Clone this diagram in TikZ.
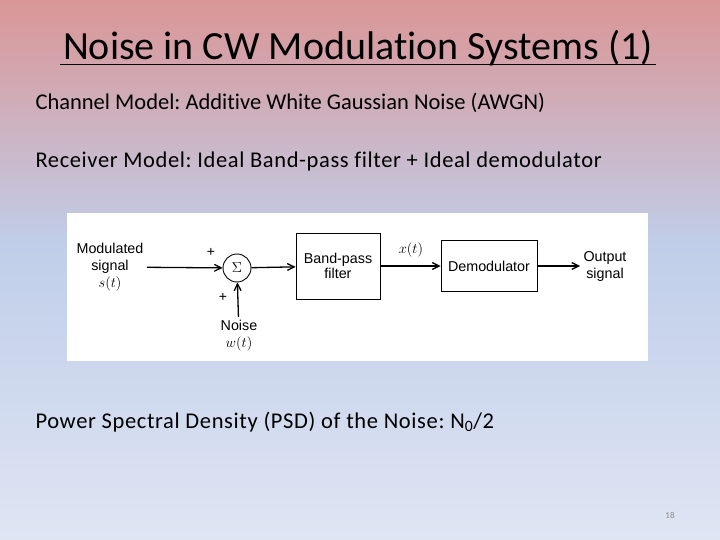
\documentclass[tikz,border=0pt]{standalone}
\usepackage{fontspec}
\setmainfont{Carlito}[Ligatures=NoCommon]
\newfontfamily\figfont{Liberation Sans}
\frenchspacing
\usetikzlibrary{arrows.meta,positioning}
\definecolor{bgtop}{RGB}{218,150,150}
\definecolor{bgmid}{RGB}{192,206,233}
\definecolor{bgbot}{RGB}{223,229,243}
\definecolor{pgnum}{RGB}{137,137,137}

\begin{document}
\begin{tikzpicture}[x=1pt,y=-1pt,>={Straight Barb[length=2.4mm,width=2.4mm]},
  body/.style={anchor=base west,font=\fontsize{22.5}{26}\selectfont},
  lbl/.style={align=center,font=\figfont\fontsize{14.3}{17}\selectfont},
  blk/.style={draw,line width=0.9pt,align=center,font=\figfont\fontsize{14.3}{15}\selectfont},
  sig/.style={->,line width=1.3pt}]
\useasboundingbox (0,0) rectangle (720,540);
\shade[top color=bgtop,bottom color=bgmid] (0,0) rectangle (720,246);
\shade[top color=bgmid,bottom color=bgbot] (0,245.5) rectangle (720,540);
\node[font=\fontsize{40}{44}\selectfont,anchor=base] (title) at (358,60) {Noise in CW Modulation Systems (1)};
\draw[line width=1.8pt] ([yshift=-4.5pt]title.base west) -- ([yshift=-4.5pt]title.base east);
\node[body] (chan) at (32,110) {Channel Model: Additive White Gaussian Noise (AWGN)};
\node[body] (recv) at (32,168) {\addfontfeatures{LetterSpace=2.7}Receiver Model: Ideal Band-pass filter + Ideal demodulator};
\node[body] (psd) at (32,428) {\addfontfeatures{LetterSpace=2.8}Power Spectral Density (PSD) of the Noise: N\textsubscript{0}/2};
\node[font=\fontsize{9}{11}\selectfont,text=pgnum] (page) at (670,515) {18};
% block diagram
\fill[white] (67,213) rectangle (648,361);
\node[lbl] (insig) at (110,267) {Modulated\\signal\\$s(t)$};
\node[draw,circle,line width=0.9pt,minimum size=28pt,inner sep=0pt,font=\Large] (sum) at (237,268) {$\Sigma$};
\node[blk,minimum width=84pt,minimum height=66pt] (bpf) at (338,266) {Band-pass\\filter};
\node[blk,minimum width=96pt,minimum height=51pt] (demod) at (489,266) {Demodulator};
\node[lbl] (out) at (605,266) {Output\\signal};
\node[lbl] (noise) at (239,336) {Noise\\$w(t)$};
\node[font=\figfont\fontsize{14}{16}\selectfont] (pa) at (211,252) {+};
\node[font=\figfont\fontsize{14}{16}\selectfont] (pb) at (223,297) {+};
\node[font=\fontsize{14}{16}\selectfont] (xt) at (411,250) {$x(t)$};
\foreach \a/\b in {insig/sum,sum/bpf,bpf/demod,demod/out}{\draw[sig] (\a) -- (\b);}
\draw[sig] (noise) -- (sum);
\end{tikzpicture}
\end{document}
